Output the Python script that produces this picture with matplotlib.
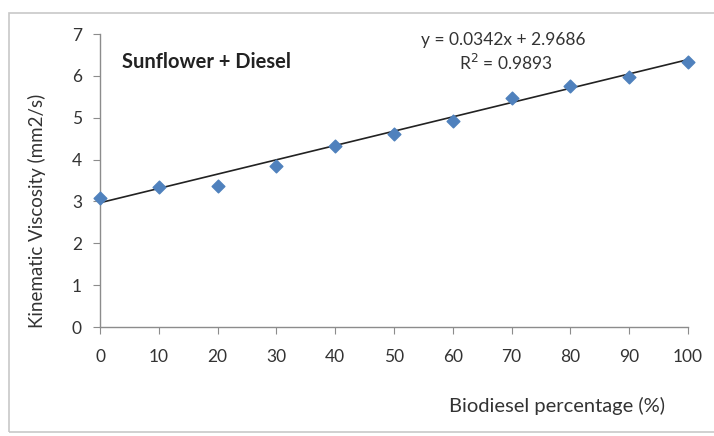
import matplotlib
matplotlib.use("Agg")
import matplotlib.pyplot as plt
from matplotlib.patches import Rectangle
import numpy as np

plt.rcParams['font.family'] = ['Lato', 'DejaVu Sans']

percent = [0, 10, 20, 30, 40, 50, 60, 70, 80, 90, 100]
viscosity = [3.08, 3.35, 3.38, 3.85, 4.32, 4.60, 4.92, 5.48, 5.75, 5.98, 6.33]
slope = 0.0342
intercept = 2.9686
r2 = 0.9893
x_ticks = list(range(0, 101, 10))
y_ticks = list(range(0, 8))

fig = plt.figure(figsize=(7.14, 4.36), dpi=100)
fig.patches.append(Rectangle((9/714, 4/436), 1.0, 419/436, transform=fig.transFigure,
                             fill=False, edgecolor='#c8c8c8', linewidth=1.2))
ax = fig.add_axes([100/714, 109/436, 588/714, 293/436])

xs = np.array([percent[0], percent[-1]])
ax.plot(xs, slope * xs + intercept, color='#222222', linewidth=1.2, zorder=2)
ax.scatter(percent, viscosity, marker='D', s=42, color='#4F81BD', zorder=3, clip_on=False)

ax.set_xlim(0, 100)
ax.set_ylim(0, 7)
ax.set_xticks(x_ticks)
ax.set_yticks(y_ticks)
for s in ['top', 'right']:
    ax.spines[s].set_visible(False)
for s in ['left', 'bottom']:
    ax.spines[s].set_color('#8c8c8c')
    ax.spines[s].set_linewidth(1.0)
ax.tick_params(axis='both', direction='out', length=5, color='#8c8c8c', labelsize=12.5, labelcolor='#333333')
ax.tick_params(axis='x', pad=11)
ax.tick_params(axis='y', pad=8)

fig.text(37/714, 1 - 211/436, 'Kinematic Viscosity (mm2/s)', fontsize=13.5, color='#333333',
         rotation=90, ha='center', va='center')
fig.text(557/714, 1 - 406/436, 'Biodiesel percentage (%)', fontsize=14.5, color='#333333', ha='center', va='center')
fig.text(122/714, 1 - 62/436, 'Sunflower + Diesel', fontsize=14.5, fontweight='bold', color='#222222', ha='left', va='center')
fig.text(503/714, 1 - 40/436, f'y = {slope}x + {intercept}', fontsize=12.5, color='#333333', ha='center', va='center')
fig.text(506/714, 1 - 63/436, f'R$^2$ = {r2}', fontsize=12.5, color='#333333', ha='center', va='center')

fig.savefig('out.png', dpi=100)
